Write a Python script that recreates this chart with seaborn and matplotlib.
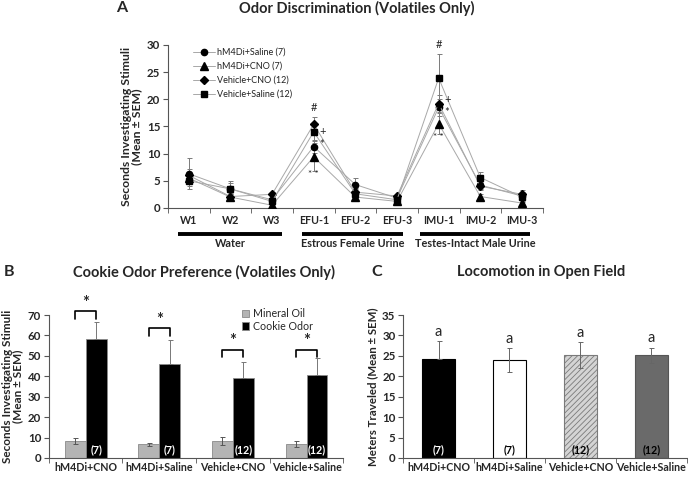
import matplotlib.pyplot as plt
import numpy as np
import pandas as pd
import seaborn as sns

# Panel A: odor discrimination (volatiles only)
trials = ["W1", "W2", "W3", "EFU-1", "EFU-2", "EFU-3", "IMU-1", "IMU-2", "IMU-3"]
groups_a = ["hM4Di+Saline (7)", "hM4Di+CNO (7)", "Vehicle+CNO (12)", "Vehicle+Saline (12)"]
saline_hm4di = [6.3, 3.5, 1.5, 11.3, 4.3, 1.8, 18.5, 4.2, 2.2]
cno_hm4di = [5.5, 2.0, 0.5, 9.4, 2.0, 1.2, 15.5, 2.1, 0.9]
cno_vehicle = [6.0, 2.1, 2.5, 15.4, 2.9, 2.2, 19.2, 4.0, 2.5]
saline_vehicle = [5.0, 3.5, 1.2, 14.0, 2.6, 1.5, 23.9, 5.6, 2.0]
sem_saline_hm4di = [2.9, 1.0, 0.8, 1.2, 1.2, 0.5, 1.5, 0.8, 0.6]
sem_cno_hm4di = [1.0, 0.5, 0.4, 2.6, 0.5, 0.3, 1.9, 0.5, 0.4]
sem_cno_vehicle = [1.2, 0.6, 0.5, 1.4, 0.7, 0.3, 1.6, 0.7, 0.8]
sem_saline_vehicle = [1.0, 1.5, 0.6, 1.6, 0.8, 0.4, 4.4, 1.0, 0.9]
stim_groups = ["Water", "Estrous Female Urine", "Testes-Intact Male Urine"]

# Panel B: cookie odor preference
conditions = ["hM4Di+CNO", "hM4Di+Saline", "Vehicle+CNO", "Vehicle+Saline"]
group_n = ["(7)", "(7)", "(12)", "(12)"]
mineral_oil = [8.3, 6.6, 8.3, 6.8]
mineral_oil_sem = [1.3, 0.9, 1.8, 1.4]
cookie_odor = [58.2, 46.0, 39.2, 40.8]
cookie_odor_sem = [8.3, 11.8, 8.0, 8.0]
bracket_top = [71.8, 63.5, 53.0, 53.0]

# Panel C: locomotion in open field
meters = [24.2, 24.0, 25.2, 25.1]
meters_sem = [4.4, 2.9, 3.2, 1.9]

FONT = ["Lato", "DejaVu Sans"]
TICK = 7.7


def style_axis(ax):
    sns.despine(ax=ax)
    for s in ["left", "bottom"]:
        ax.spines[s].set_color("#555555")
    ax.tick_params(axis="y", length=3.5, labelsize=8.3, pad=2, color="#555555")
    ax.tick_params(axis="x", which="minor", length=3.5, color="#555555")
    for lab in ax.get_yticklabels():
        lab.set_fontweight("bold")


def plot_discrimination(ax):
    x = np.arange(len(trials))
    series = [
        (saline_hm4di, sem_saline_hm4di, "o", 4.5),
        (cno_hm4di, sem_cno_hm4di, "^", 5.5),
        (cno_vehicle, sem_cno_vehicle, "D", 3.8),
        (saline_vehicle, sem_saline_vehicle, "s", 4.5),
    ]
    for (vals, sem, marker, ms), label in zip(series, groups_a):
        ax.errorbar(x, vals, yerr=sem, fmt="none", ecolor="#7a7a7a",
                    elinewidth=0.7, capsize=1.8, capthick=0.7, zorder=2)
        ax.plot(x, vals, color="#a8a8a8", lw=0.7, marker=marker, ms=ms,
                mfc="black", mec="black", label=label, zorder=3)

    ax.set_xlim(-0.5, 8.5)
    ax.set_ylim(0, 30)
    ax.set_yticks(range(0, 31, 5))
    ax.set_xticks(x)
    ax.set_xticklabels(trials, fontweight="bold", fontsize=TICK)
    ax.set_xticks(np.arange(-0.5, 9, 1), minor=True)
    ax.tick_params(axis="x", which="major", length=0, pad=5)
    ax.set_ylabel("Seconds Investigating Stimuli\n(Mean ± SEM)",
                  fontweight="bold", fontsize=8.8, labelpad=3,
                  linespacing=1.0)
    style_axis(ax)

    # stimulus group bars under x axis
    spans = [(-0.25, 2.25), (2.72, 5.15), (5.55, 8.2)]
    trans = ax.get_xaxis_transform()
    for (x0, x1), name in zip(spans, stim_groups):
        ax.plot([x0, x1], [-0.16, -0.16], color="black", lw=2.8,
                transform=trans, clip_on=False, solid_capstyle="butt")
        ax.text((x0 + x1) / 2, -0.217, name, transform=trans, ha="center",
                va="center", fontweight="bold", fontsize=7.8)

    # significance marks
    ax.text(3, 18.4, "#", ha="center", va="center", fontsize=8)
    ax.text(3.22, 14.0, "+", ha="center", va="center", fontsize=8)
    ax.text(3.18, 11.7, "*", ha="center", va="center", fontsize=8)
    ax.text(3, 6.1, "* *", ha="center", va="center", fontsize=7)
    ax.text(6, 30.0, "#", ha="center", va="center", fontsize=8)
    ax.text(6.22, 20.0, "+", ha="center", va="center", fontsize=8)
    ax.text(6.2, 17.6, "*", ha="center", va="center", fontsize=8)
    ax.text(6, 12.9, "* *", ha="center", va="center", fontsize=7)

    leg = ax.legend(loc="upper left", bbox_to_anchor=(0.05, 1.02),
                    frameon=False, fontsize=6.5, handlelength=2.4,
                    labelspacing=0.55, handletextpad=0.3, borderpad=0.2)
    for t in leg.get_texts():
        t.set_color("#222222")


def plot_preference(ax):
    df = pd.DataFrame({
        "condition": conditions * 2,
        "stimulus": ["Mineral Oil"] * 4 + ["Cookie Odor"] * 4,
        "value": mineral_oil + cookie_odor,
    })
    sns.barplot(data=df, x="condition", y="value", hue="stimulus",
                palette={"Mineral Oil": "#b4b4b4", "Cookie Odor": "black"},
                width=0.57, errorbar=None, ax=ax, saturation=1,
                edgecolor="#8a8a8a", linewidth=0.6)
    w = 0.57 / 2
    x = np.arange(len(conditions))
    ax.errorbar(x - w / 2, mineral_oil, yerr=mineral_oil_sem, fmt="none",
                ecolor="#555555", elinewidth=0.7, capsize=1.8, capthick=0.7)
    ax.errorbar(x + w / 2, cookie_odor,
                yerr=[np.zeros(4), cookie_odor_sem], fmt="none",
                ecolor="#777777", elinewidth=0.7, capsize=1.8, capthick=0.7)
    for i, top in enumerate(bracket_top):
        xl, xr = i - w / 2, i + w / 2
        ax.plot([xl, xl, xr, xr], [top - 3.8, top, top, top - 3.8],
                color="black", lw=1.2, clip_on=False)
        ax.text(i, top + 0.2, "*", ha="center", va="bottom", fontsize=12,
                fontweight="bold", clip_on=False)
        ax.text(i + w / 2, 1.3, group_n[i], ha="center", va="bottom",
                color="white", fontweight="bold", fontsize=7.7)

    ax.set_xlim(-0.5, 3.5)
    ax.set_ylim(0, 70)
    ax.set_yticks(range(0, 71, 10))
    ax.set_xlabel("")
    ax.set_ylabel("Seconds Investigating Stimuli\n(Mean ± SEM)",
                  fontweight="bold", fontsize=8.5, labelpad=3,
                  linespacing=1.0)
    ax.set_xticks(np.arange(-0.5, 4, 1), minor=True)
    ax.tick_params(axis="x", which="major", length=0, pad=3)
    for lab in ax.get_xticklabels():
        lab.set_fontweight("bold")
        lab.set_fontsize(TICK)
    style_axis(ax)
    ax.legend(loc="upper left", bbox_to_anchor=(0.63, 1.1), frameon=False,
              fontsize=7.7, handlelength=0.7, handleheight=0.7,
              handletextpad=0.3, labelspacing=0.15, borderpad=0.2)


def plot_locomotion(ax):
    df = pd.DataFrame({"condition": conditions, "meters": meters})
    sns.barplot(data=df, x="condition", y="meters", color="black",
                width=0.47, errorbar=None, ax=ax, saturation=1)
    faces = ["black", "white", "#d4d4d4", "#6a6a6a"]
    edges = ["black", "black", "#7a7a7a", "#555555"]
    for i, patch in enumerate(ax.patches[:4]):
        patch.set_facecolor(faces[i])
        patch.set_edgecolor(edges[i])
        patch.set_linewidth(0.8)
        if i == 2:
            patch.set_hatch("//////")
    x = np.arange(len(conditions))
    lower = [0, meters_sem[1], meters_sem[2], meters_sem[3]]
    ax.errorbar(x, meters, yerr=[lower, meters_sem], fmt="none",
                ecolor="#666666", elinewidth=0.7, capsize=1.8, capthick=0.7)
    for i in range(4):
        ax.text(i, meters[i] + meters_sem[i] + 0.6, "a", ha="center",
                va="bottom", fontsize=10.5)
        ax.text(i, 0.7, group_n[i], ha="center", va="bottom",
                color="white" if i == 0 else "black", fontweight="bold",
                fontsize=7.7)

    ax.set_xlim(-0.5, 3.5)
    ax.set_ylim(0, 35)
    ax.set_yticks(range(0, 36, 5))
    ax.set_xlabel("")
    ax.set_ylabel("Meters Traveled (Mean ± SEM)", fontweight="bold",
                  fontsize=8.3, labelpad=3)
    ax.set_xticks(np.arange(-0.5, 4, 1), minor=True)
    ax.tick_params(axis="x", which="major", length=0, pad=3)
    for lab in ax.get_xticklabels():
        lab.set_fontweight("bold")
        lab.set_fontsize(TICK)
    style_axis(ax)


def main():
    sns.set_style("ticks")
    plt.rcParams["font.family"] = FONT
    plt.rcParams["axes.linewidth"] = 0.8
    plt.rcParams["hatch.linewidth"] = 0.6

    fig = plt.figure(figsize=(6.88, 4.78), dpi=100)
    ax_a = fig.add_axes([0.244, 0.565, 0.545, 0.341])
    ax_b = fig.add_axes([0.071, 0.042, 0.428, 0.299])
    ax_c = fig.add_axes([0.586, 0.042, 0.412, 0.299])

    plot_discrimination(ax_a)
    plot_preference(ax_b)
    plot_locomotion(ax_c)

    fig.text(0.519, 0.983, "Odor Discrimination (Volatiles Only)", ha="center",
             va="center", fontweight="bold", fontsize=10.5)
    fig.text(0.297, 0.431, "Cookie Odor Preference (Volatiles Only)",
             ha="center", va="center", fontweight="bold", fontsize=10.5)
    fig.text(0.787, 0.431, "Locomotion in Open Field", ha="center",
             va="center", fontweight="bold", fontsize=10.5)
    fig.text(0.177, 0.983, "A", ha="center", va="center", fontweight="bold",
             fontsize=11.5)
    fig.text(0.013, 0.431, "B", ha="center", va="center", fontweight="bold",
             fontsize=11.5)
    fig.text(0.548, 0.431, "C", ha="center", va="center", fontweight="bold",
             fontsize=11.5)

    fig.savefig("out.png", dpi=100)
    plt.close(fig)


if __name__ == "__main__":
    main()
